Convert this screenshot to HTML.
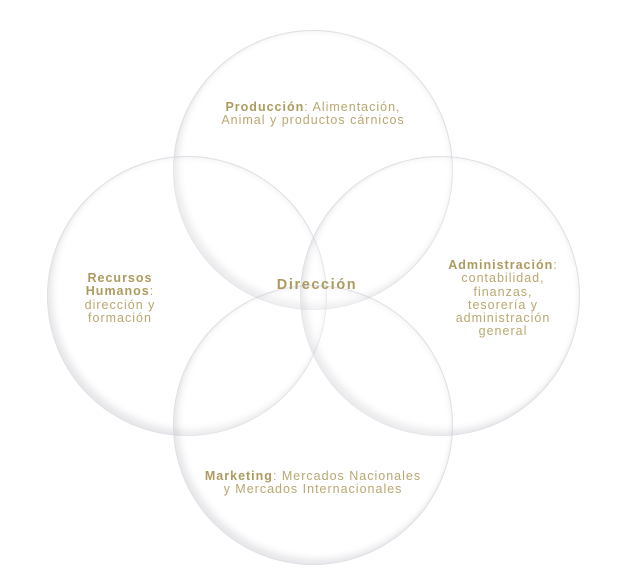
<!DOCTYPE html>
<html><head><meta charset="utf-8"><style>
body{margin:0;width:623px;height:587px;background:#fff;position:relative;overflow:hidden;font-family:"Liberation Sans",sans-serif;}
.c{position:absolute;width:280px;height:280px;border-radius:50%;border:1px solid rgba(200,200,210,.6);box-sizing:border-box;box-shadow:inset 4px -5px 7px rgba(120,120,140,.18),inset -2px 2px 4px rgba(120,120,140,.06);background:rgba(255,255,255,.2);}
.t{position:absolute;color:#b9a771;font-size:12.5px;line-height:13.3px;text-align:center;letter-spacing:1px;}
b{font-weight:bold;color:#ad9a5f}
</style></head><body>
<div class="c" style="left:173px;top:30px"></div>
<div class="c" style="left:47px;top:156px"></div>
<div class="c" style="left:300px;top:156px"></div>
<div class="c" style="left:173px;top:285px"></div>
<div class="t" style="left:163px;top:101px;width:300px"><b>Producción</b>: Alimentación,<br>Animal y productos cárnicos</div>
<div class="t" style="left:60px;top:272px;width:120px"><b>Recursos<br>Humanos</b>:<br>dirección y<br>formación</div>
<div class="t" style="left:257px;top:279px;width:120px;font-size:14.5px;font-weight:bold;color:#ad9a5f;letter-spacing:1.6px">Dirección</div>
<div class="t" style="left:433px;top:259px;width:140px"><b>Administración</b>:<br>contabilidad,<br>finanzas,<br>tesorería y<br>administración<br>general</div>
<div class="t" style="left:163px;top:470px;width:300px"><b>Marketing</b>: Mercados Nacionales<br>y Mercados Internacionales</div>
</body></html>
